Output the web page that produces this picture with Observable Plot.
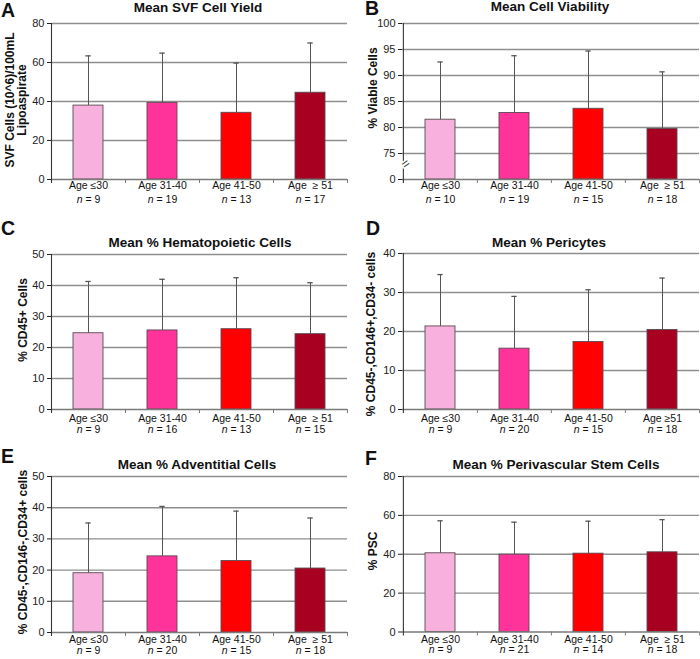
<!DOCTYPE html>
<html><head><meta charset="utf-8">
<script src="https://cdn.jsdelivr.net/npm/d3@7"></script>
<script src="https://cdn.jsdelivr.net/npm/@observablehq/plot@0.6"></script>
<style>
body{margin:0;background:#fff;}
#chart{position:relative;width:700px;height:659px;overflow:hidden;font-family:"Liberation Sans",Arial,sans-serif;}
#chart > svg{position:absolute;}
</style></head><body><div id="chart"></div>
<script>
// ---------- data ----------
const categories = ["<=30", "31-40", "41-50", ">=51"];
const barColors = ["#F8B0DC", "#FF3399", "#FF0000", "#A80020"];
const labelsStd = ["Age ≤30", "Age 31-40", "Age 41-50", "Age\u00a0 ≥ 51"];
const labelsD = ["Age ≤30", "Age 31-40", "Age 41-50", "Age ≥51"];

const svfMean = [37.9, 39.3, 34.2, 44.5], svfUpper = [63.4, 64.8, 59.7, 70.0], svfN = [9, 19, 13, 17];
const viaMean = [81.5, 82.8, 83.6, 79.7], viaUpper = [92.6, 93.8, 94.7, 90.7], viaN = [10, 19, 15, 18];
const hemMean = [24.6, 25.5, 25.9, 24.3], hemUpper = [41.3, 42.0, 42.5, 40.9], hemN = [9, 16, 13, 15];
const perMean = [21.3, 15.6, 17.3, 20.4], perUpper = [34.6, 29.0, 30.7, 33.7], perN = [9, 20, 15, 18];
const advMean = [19.0, 24.4, 22.9, 20.5], advUpper = [35.1, 40.4, 38.9, 36.7], advN = [9, 20, 15, 18];
const pscMean = [40.5, 39.8, 40.3, 41.0], pscUpper = [57.2, 56.5, 57.0, 57.8], pscN = [9, 21, 14, 18];

const ticksA = [0, 20, 40, 60, 80];
const ticksB = [70, 75, 80, 85, 90, 95, 100];   // 70 is the broken-axis origin, labelled "0"
const ticksC = [0, 10, 20, 30, 40, 50];
const ticksD = [0, 10, 20, 30, 40];
const ticksE = [0, 10, 20, 30, 40, 50];
const ticksF = [0, 20, 40, 60, 80];

const titles = ["Mean SVF Cell Yield", "Mean Cell Viability", "Mean % Hematopoietic Cells",
                "Mean % Pericytes", "Mean % Adventitial Cells", "Mean % Perivascular Stem Cells"];
const letters = ["A", "B", "C", "D", "E", "F"];
const yLabels = [["SVF Cells (10^6)/100mL", "Lipoaspirate"], ["% Viable Cells"], ["% CD45+ Cells"],
                 ["% CD45-,CD146+,CD34- cells"], ["% CD45-,CD146-,CD34+ cells"], ["% PSC"]];

// ---------- layout ----------
const panels = [
  {left: 0,   top: 0,   width: 350, height: 220, mL: 51, mR: 3, mT: 23, mB: 41, base: 0,  ticks: ticksA, mean: svfMean, upper: svfUpper, n: svfN, labels: labelsStd, dy1: 9.5, dy2: 23,
   title: {x: 198, y: 11.5}, letter: {x: 1, y: 17}, ylab: [{x: 13.5, y: 100}, {x: 26, y: 100}]},
  {left: 350, top: 0,   width: 350, height: 220, mL: 52, mR: 1, mT: 23, mB: 41, base: 70, ticks: ticksB, mean: viaMean, upper: viaUpper, n: viaN, labels: labelsStd, dy1: 9.5, dy2: 23, brk: 72.6,
   title: {x: 550, y: 11}, letter: {x: 365, y: 15}, ylab: [{x: 376.5, y: 88}]},
  {left: 0,   top: 220, width: 350, height: 220, mL: 51, mR: 3, mT: 34, mB: 31, base: 0,  ticks: ticksC, mean: hemMean, upper: hemUpper, n: hemN, labels: labelsStd, dy1: 12, dy2: 23,
   title: {x: 200, y: 246.5}, letter: {x: 1, y: 235}, ylab: [{x: 26.5, y: 320}]},
  {left: 350, top: 220, width: 350, height: 220, mL: 52, mR: 1, mT: 33, mB: 31, base: 0,  ticks: ticksD, mean: perMean, upper: perUpper, n: perN, labels: labelsD, dy1: 12, dy2: 23,
   title: {x: 549, y: 246.5}, letter: {x: 366, y: 235}, ylab: [{x: 374.5, y: 334}]},
  {left: 0,   top: 440, width: 350, height: 219, mL: 51, mR: 3, mT: 36, mB: 27, base: 0,  ticks: ticksE, mean: advMean, upper: advUpper, n: advN, labels: labelsStd, dy1: 10.7, dy2: 21.3,
   title: {x: 197, y: 469}, letter: {x: 1, y: 462.5}, ylab: [{x: 26.5, y: 552}]},
  {left: 350, top: 440, width: 350, height: 219, mL: 52, mR: 1, mT: 36, mB: 27.5, base: 0, ticks: ticksF, mean: pscMean, upper: pscUpper, n: pscN, labels: labelsStd, dy1: 10.7, dy2: 21.3,
   title: {x: 556, y: 469}, letter: {x: 365, y: 465}, ylab: [{x: 377, y: 551}]}
];

const chart = document.getElementById("chart");

function panel(cfg) {
  const {width, height, mL, mR, mT, mB, base, ticks, mean, upper, n, labels, dy1, dy2, brk} = cfg;
  const data = categories.map((c, i) => ({cat: c, label: labels[i], nlab: `n = ${n[i]}`, mean: mean[i], upper: upper[i], color: barColors[i]}));
  const plotW = width - mL - mR;
  const plotH = height - mT - mB;
  const step = plotW / categories.length;
  const bw = step * 0.4;
  const capInset = (bw - 5) / 2;
  const marks = [
    Plot.ruleY(ticks.filter(t => t !== base), {y: d => d, stroke: "#8e8e8e", strokeWidth: 1.4}),
    Plot.barY(data, {x: "cat", y1: base, y2: "mean", fill: "color", stroke: "#5a4a52", strokeWidth: 0.9}),
    Plot.ruleX(data, {x: "cat", y1: "mean", y2: "upper", stroke: "#555", strokeWidth: 1}),
    Plot.tickY(data, {x: "cat", y: "upper", stroke: "#555", strokeWidth: 1.3, insetLeft: capInset, insetRight: capInset}),
    Plot.ruleY([base], {y: d => d, stroke: "#7a7a7a", strokeWidth: 1.3}),
    Plot.ruleX(data.slice(1), {x: "cat", dx: -step / 2, stroke: "#7a7a7a", insetTop: plotH, insetBottom: -4}),
    Plot.ruleX(data.slice(-1), {x: "cat", dx: step / 2, stroke: "#7a7a7a", insetTop: plotH, insetBottom: -4}),
    Plot.ruleX(data.slice(0, 1), {x: "cat", dx: -step / 2, stroke: "#333", strokeWidth: 1.1, insetBottom: -4}),
    Plot.text(data, {x: "cat", text: "label", frameAnchor: "bottom", dy: dy1, fontSize: 10.5, fill: "#111"}),
    Plot.text(data, {x: "cat", text: "nlab", frameAnchor: "bottom", dy: dy2, fontSize: 10.5, fill: "#111"})
  ];
  if (brk != null) {
    marks.push(Plot.text([brk], {y: d => d, frameAnchor: "left", text: () => "=", rotate: -35, fontSize: 13,
      fill: "#333", stroke: "white", strokeWidth: 3, paintOrder: "stroke"}));
  }
  return Plot.plot({
    width, height,
    marginLeft: mL, marginRight: mR, marginTop: mT, marginBottom: mB,
    style: {fontFamily: "'Liberation Sans', Arial, sans-serif", fontSize: "11px", color: "#222", background: "transparent", overflow: "visible"},
    x: {domain: categories, paddingInner: 0.6, paddingOuter: 0.3, axis: null},
    y: {domain: [base, ticks[ticks.length - 1]], ticks: ticks, tickFormat: d => (d === 70 && base === 70 ? "0" : String(d)),
        tickSize: 4, tickPadding: 3, label: null},
    marks
  });
}

panels.forEach(cfg => {
  const svg = panel(cfg);
  svg.style.left = cfg.left + "px";
  svg.style.top = cfg.top + "px";
  // italic "n" in sample-size labels
  svg.querySelectorAll("text, tspan").forEach(t => {
    if (t.childElementCount === 0 && /^n = /.test(t.textContent)) {
      const rest = t.textContent.slice(1);
      t.textContent = "";
      const a = document.createElementNS("http://www.w3.org/2000/svg", "tspan");
      a.setAttribute("font-style", "italic");
      a.textContent = "n";
      const b = document.createElementNS("http://www.w3.org/2000/svg", "tspan");
      b.textContent = rest;
      t.appendChild(a); t.appendChild(b);
    }
  });
  chart.appendChild(svg);
});

// ---------- overlay: titles, panel letters, y-axis labels ----------
const overlay = d3.select(chart).append("svg")
  .attr("width", 700).attr("height", 659)
  .style("left", "0px").style("top", "0px").style("pointer-events", "none")
  .style("font-family", "'Liberation Sans', Arial, sans-serif");

panels.forEach((cfg, i) => {
  overlay.append("text").attr("x", cfg.title.x).attr("y", cfg.title.y)
    .attr("text-anchor", "middle").attr("font-weight", "bold").attr("font-size", 13.5).attr("fill", "#111")
    .text(titles[i]);
  overlay.append("text").attr("x", cfg.letter.x).attr("y", cfg.letter.y)
    .attr("font-weight", "bold").attr("font-size", 19.5).attr("fill", "#111")
    .text(letters[i]);
  yLabels[i].forEach((lab, j) => {
    const p = cfg.ylab[j];
    overlay.append("text")
      .attr("transform", `translate(${p.x},${p.y}) rotate(-90)`)
      .attr("text-anchor", "middle").attr("font-weight", "bold").attr("font-size", 12).attr("fill", "#111")
      .text(lab);
  });
});
</script>
</body></html>
